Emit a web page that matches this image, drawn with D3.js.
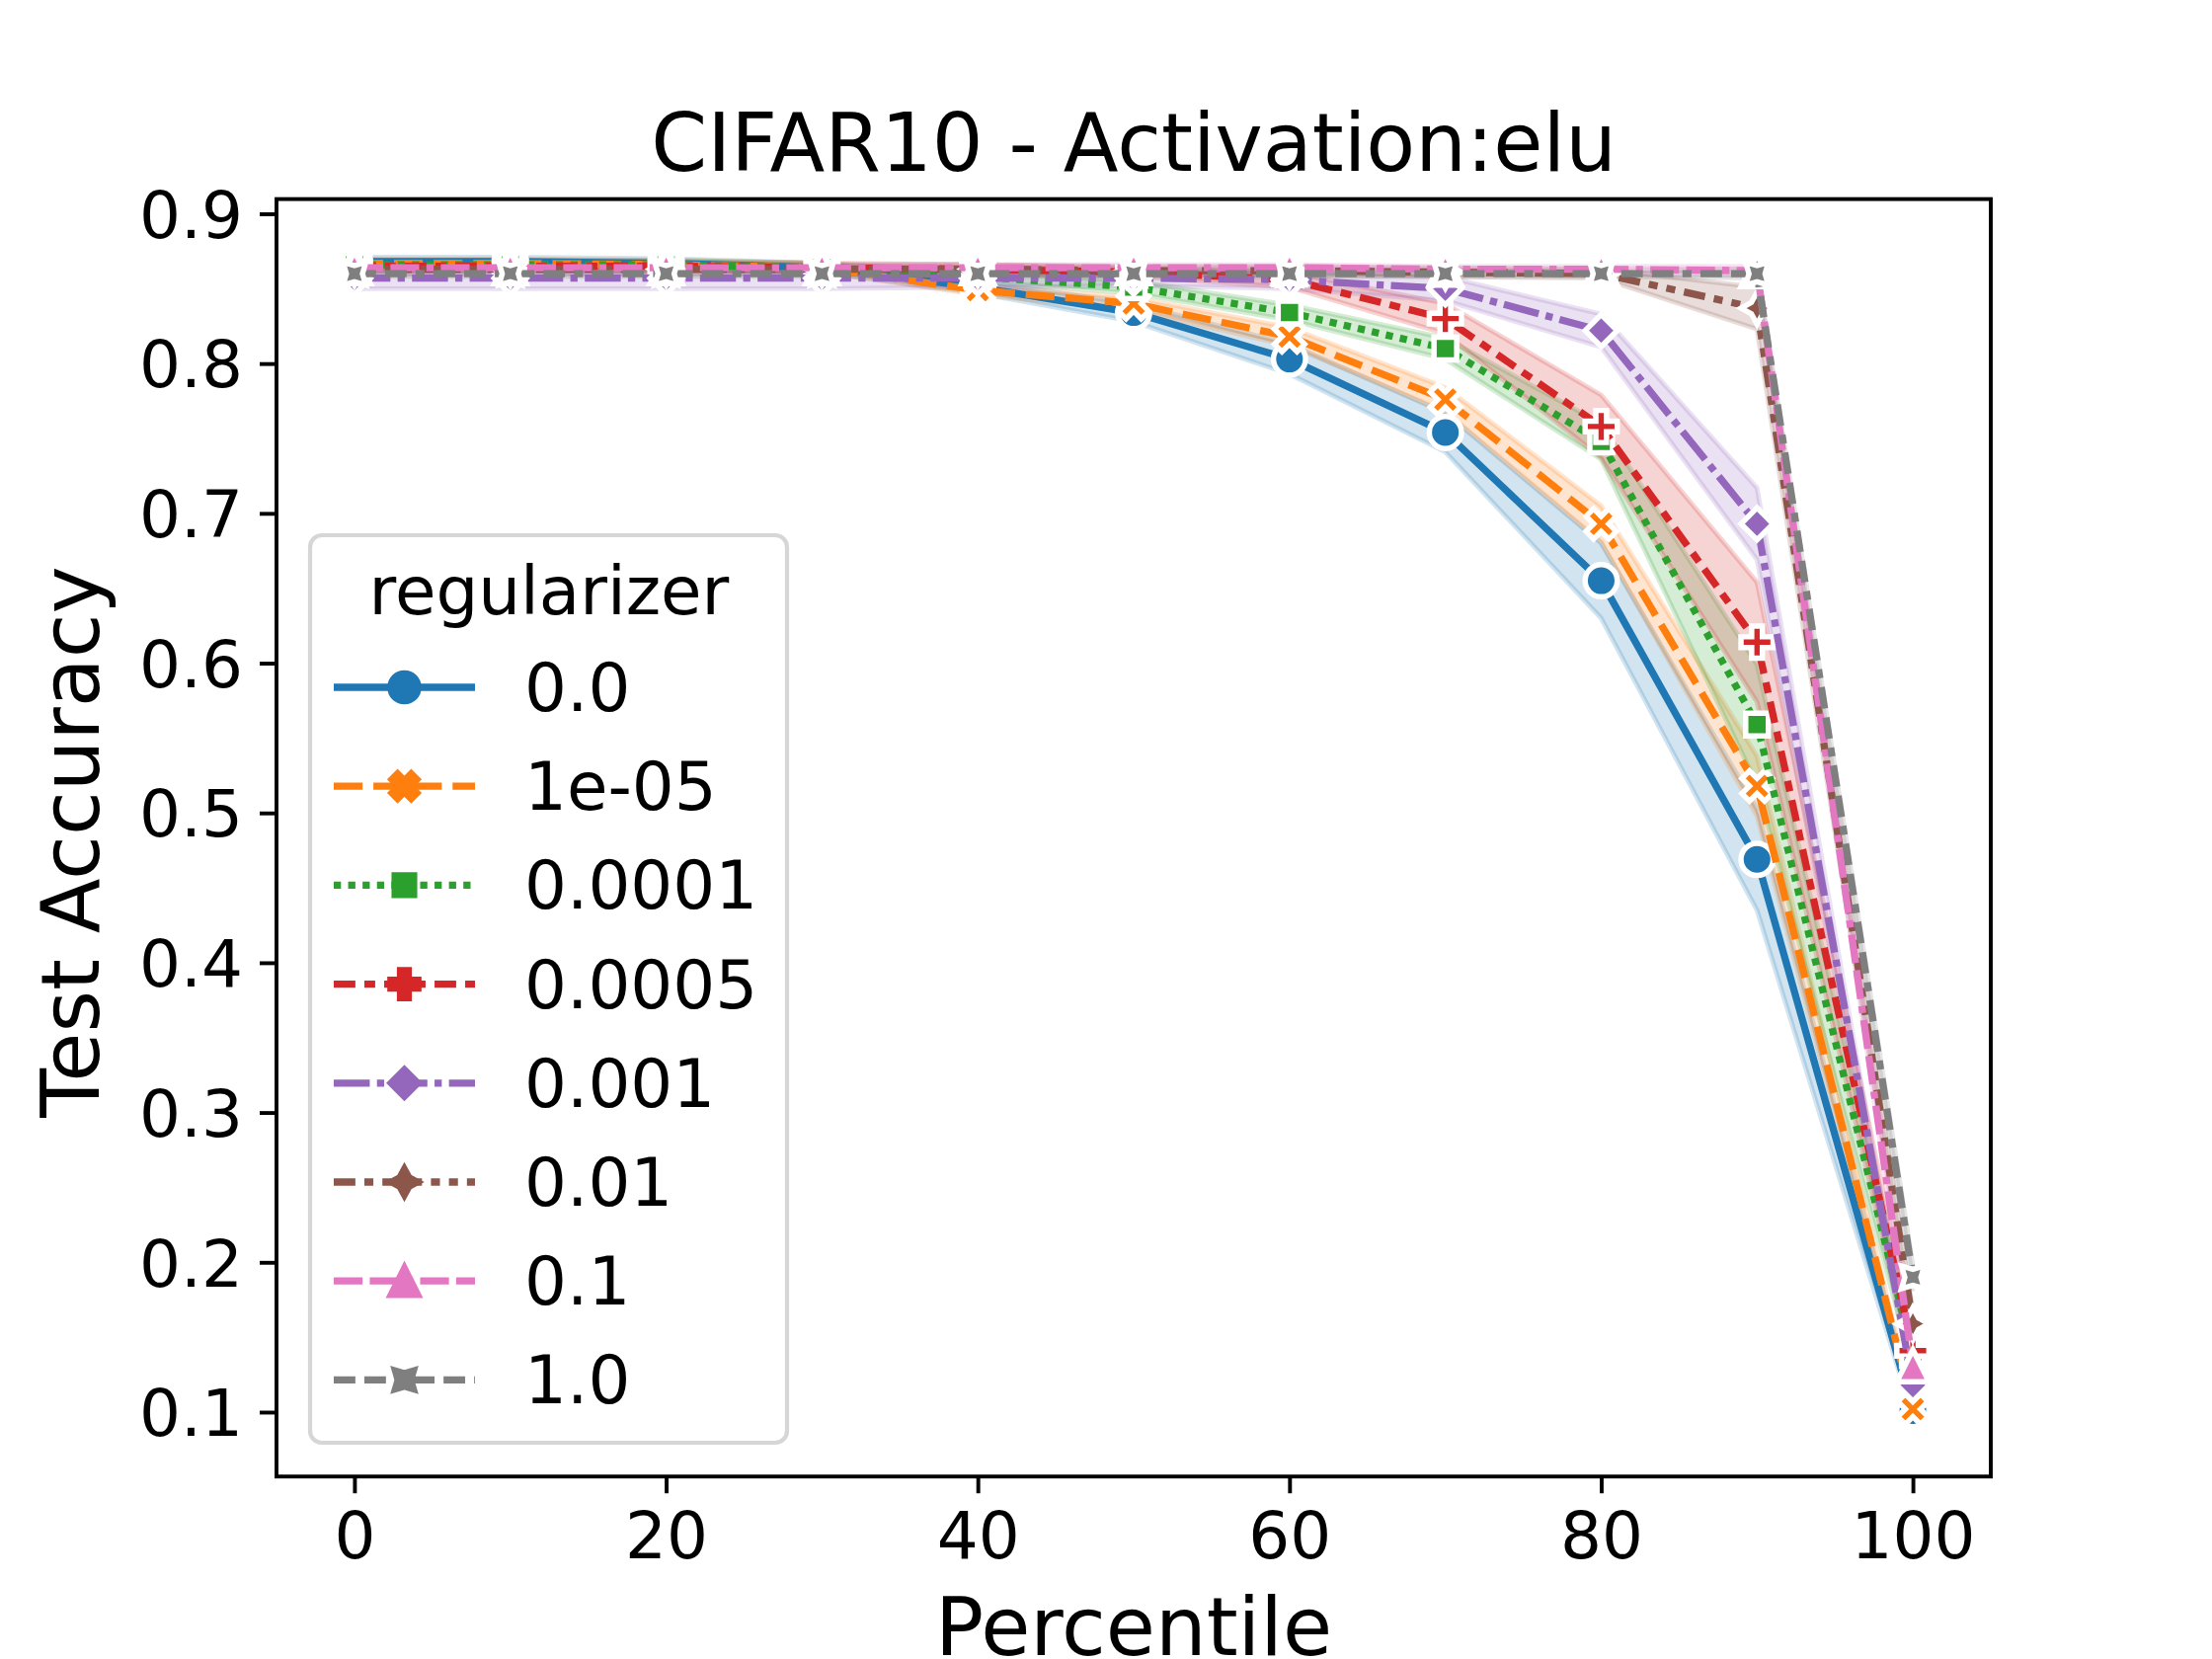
<!DOCTYPE html>
<html><head><meta charset="utf-8">
<script src="https://cdn.jsdelivr.net/npm/d3@7"></script>
<style>
body{margin:0;background:#fff}
svg{display:block}
text{font-family:"DejaVu Sans",sans-serif;fill:#000}
</style>
</head><body>
<svg id="chart" width="2240" height="1680"></svg>
<script>
// ---------------- data ----------------
const percentiles = [0, 10, 20, 30, 40, 50, 60, 70, 80, 90, 100];
const regularizers = ["0.0", "1e-05", "0.0001", "0.0005", "0.001", "0.01", "0.1", "1.0"];
const xTickValues = [0, 20, 40, 60, 80, 100];
const yTickValues = [0.1, 0.2, 0.3, 0.4, 0.5, 0.6, 0.7, 0.8, 0.9];
const titleText = "CIFAR10 - Activation:elu";
const xLabelText = "Percentile";
const yLabelText = "Test Accuracy";
const legendTitleText = "regularizer";

// mean test accuracy per regularizer
const acc_0_0    = [0.868, 0.868, 0.867, 0.864, 0.851, 0.834, 0.803, 0.754, 0.655, 0.469, 0.101];
const acc_1e_05  = [0.867, 0.867, 0.866, 0.864, 0.849, 0.840, 0.818, 0.776, 0.693, 0.518, 0.102];
const acc_0_0001 = [0.866, 0.866, 0.866, 0.864, 0.858, 0.851, 0.834, 0.810, 0.748, 0.559, 0.138];
const acc_0_0005 = [0.865, 0.865, 0.865, 0.864, 0.863, 0.861, 0.856, 0.830, 0.758, 0.614, 0.141];
const acc_0_001  = [0.857, 0.857, 0.857, 0.857, 0.857, 0.857, 0.856, 0.850, 0.822, 0.693, 0.118];
const acc_0_01   = [0.863, 0.863, 0.863, 0.863, 0.863, 0.862, 0.862, 0.861, 0.860, 0.837, 0.159];
const acc_0_1    = [0.864, 0.864, 0.864, 0.864, 0.864, 0.864, 0.864, 0.863, 0.863, 0.862, 0.131];
const acc_1_0    = [0.860, 0.860, 0.860, 0.860, 0.860, 0.860, 0.860, 0.860, 0.860, 0.860, 0.190];

// confidence-band half widths
const ci_0_0    = [0.003, 0.003, 0.003, 0.003, 0.004, 0.006, 0.010, 0.013, 0.025, 0.034, 0.004];
const ci_1e_05  = [0.003, 0.003, 0.003, 0.003, 0.003, 0.004, 0.006, 0.008, 0.012, 0.020, 0.003];
const ci_0_0001 = [0.003, 0.003, 0.003, 0.003, 0.003, 0.004, 0.005, 0.007, 0.012, 0.040, 0.010];
const ci_0_0005 = [0.003, 0.003, 0.003, 0.003, 0.003, 0.003, 0.005, 0.010, 0.021, 0.040, 0.010];
const ci_0_001  = [0.007, 0.007, 0.007, 0.007, 0.006, 0.005, 0.006, 0.008, 0.011, 0.024, 0.005];
const ci_0_01   = [0.003, 0.003, 0.003, 0.003, 0.003, 0.003, 0.003, 0.003, 0.003, 0.014, 0.008];
const ci_0_1    = [0.002, 0.002, 0.002, 0.002, 0.002, 0.002, 0.002, 0.002, 0.002, 0.003, 0.006];
const ci_1_0    = [0.002, 0.002, 0.002, 0.002, 0.002, 0.002, 0.002, 0.002, 0.002, 0.003, 0.008];

const accLists = [acc_0_0, acc_1e_05, acc_0_0001, acc_0_0005, acc_0_001, acc_0_01, acc_0_1, acc_1_0];
const ciLists  = [ci_0_0, ci_1e_05, ci_0_0001, ci_0_0005, ci_0_001, ci_0_01, ci_0_1, ci_1_0];

// ---------------- styles ----------------
const colors = ["#1f77b4", "#ff7f0e", "#2ca02c", "#d62728", "#9467bd", "#8c564b", "#e377c2", "#7f7f7f"];
const markerKinds = ["o", "X", "sq", "P", "D", "star", "^", "starx"];
const dashUnits = [null, [4, 1.5], [1, 1], [3, 1.25, 1.5, 1.25], [5, 1, 1, 1],
  [3, 1.25, 1.25, 1.25, 1.25, 1.25], [4, 1, 4, 1, 1, 1], [3, 1.25, 3, 1.25, 1.25, 1.25]];

const LW = 7.29;      // 1.5pt at 350 dpi
const MS = 32.5;      // plot marker size
const MS_LEG = 29.17; // legend marker size
const MEW = 5.47;     // 1.125pt
const FS_TICK = 66, FS_LABEL = 81.5, FS_LEG = 67.5;

const W = 2240, H = 1680;
const plot = {left: 280, right: 2016, top: 201.6, bottom: 1495.2};

const svg = d3.select("#chart");
svg.append("rect").attr("width", W).attr("height", H).attr("fill", "#fff");

const x = d3.scaleLinear().domain([-5, 105]).range([plot.left, plot.right]);
const y = d3.scaleLinear().domain([0.057, 0.9098]).range([plot.bottom, plot.top]);

const series = regularizers.map((r, i) => ({
  name: r, color: colors[i], marker: markerKinds[i], dash: dashUnits[i],
  pts: percentiles.map((p, j) => ({p, v: accLists[i][j], c: ciLists[i][j]}))
}));

// ---------------- marker paths ----------------
function polyPath(pts) {
  return "M" + pts.map(p => p[0].toFixed(2) + "," + p[1].toFixed(2)).join("L") + "Z";
}
function regPoly(n, r, rot) {
  const pts = [];
  for (let k = 0; k < n; k++) {
    const a = (90 + rot + 360 * k / n) * Math.PI / 180;
    pts.push([r * Math.cos(a), -r * Math.sin(a)]);
  }
  return pts;
}
function starPts(n, r, inner, rot) {
  const pts = [];
  for (let k = 0; k < 2 * n; k++) {
    const a = (90 + rot + 180 * k / n) * Math.PI / 180;
    const rr = k % 2 === 0 ? r : r * inner;
    pts.push([rr * Math.cos(a), -rr * Math.sin(a)]);
  }
  return pts;
}
function markerPath(kind, ms) {
  const r = ms / 2;
  if (kind === "o") return `M${r},0A${r},${r} 0 1,1 ${-r},0A${r},${r} 0 1,1 ${r},0Z`;
  if (kind === "X" || kind === "P") {
    const base = [[-1,-3],[1,-3],[1,-1],[3,-1],[3,1],[1,1],[1,3],[-1,3],[-1,1],[-3,1],[-3,-1],[-1,-1]]
      .map(p => [p[0] / 6 * ms, p[1] / 6 * ms]);
    const a = kind === "X" ? Math.PI / 4 : 0;
    return polyPath(base.map(([px, py]) => [px * Math.cos(a) - py * Math.sin(a), px * Math.sin(a) + py * Math.cos(a)]));
  }
  if (kind === "sq") return polyPath(regPoly(4, r, 45));
  if (kind === "D") return polyPath(regPoly(4, r, 0));
  if (kind === "star") return polyPath(starPts(4, r, 0.5, 0));
  if (kind === "starx") return polyPath(starPts(4, r, 0.5, 45));
  if (kind === "^") return polyPath([[0, -r], [-r, r], [r, r]]);
  return "";
}

// ---------------- bands ----------------
const area = d3.area().x(d => x(d.p)).y0(d => y(d.v - d.c)).y1(d => y(d.v + d.c));
const gBands = svg.append("g");
series.forEach(s => {
  gBands.append("path").attr("d", area(s.pts))
    .attr("fill", s.color).attr("fill-opacity", 0.2)
    .attr("stroke", s.color).attr("stroke-opacity", 0.2).attr("stroke-width", 4.86)
    .attr("stroke-linejoin", "round");
});

// ---------------- lines + markers ----------------
const line = d3.line().x(d => x(d.p)).y(d => y(d.v));
series.forEach(s => {
  const g = svg.append("g");
  const path = g.append("path").attr("d", line(s.pts))
    .attr("fill", "none").attr("stroke", s.color).attr("stroke-width", LW)
    .attr("stroke-linejoin", "round");
  if (s.dash) path.attr("stroke-dasharray", s.dash.map(u => (u * LW).toFixed(2)).join(",")).attr("stroke-linecap", "butt");
  else path.attr("stroke-linecap", "square");
  g.selectAll("path.mk").data(s.pts).join("path").attr("class", "mk")
    .attr("transform", d => `translate(${x(d.p)},${y(d.v)})`)
    .attr("d", markerPath(s.marker, MS))
    .attr("fill", s.color).attr("stroke", "#fff").attr("stroke-width", MEW)
    .attr("stroke-linejoin", s.marker === "o" ? "round" : "miter");
});

// ---------------- axes ----------------
const xAxis = d3.axisBottom(x).tickValues(xTickValues).tickFormat(d3.format("d"))
  .tickSize(17).tickSizeOuter(0).tickPadding(19);
const gx = svg.append("g").attr("transform", `translate(0,${plot.bottom})`).call(xAxis);
gx.select(".domain").remove();
gx.selectAll(".tick line").attr("stroke", "#000").attr("stroke-width", 3.9);
gx.selectAll(".tick text").attr("font-size", FS_TICK).attr("font-family", "DejaVu Sans").attr("fill", "#000");

const yAxis = d3.axisLeft(y).tickValues(yTickValues).tickFormat(d3.format(".1f"))
  .tickSize(17).tickSizeOuter(0).tickPadding(17);
const gy = svg.append("g").attr("transform", `translate(${plot.left},0)`).call(yAxis);
gy.select(".domain").remove();
gy.selectAll(".tick line").attr("stroke", "#000").attr("stroke-width", 3.9);
gy.selectAll(".tick text").attr("font-size", FS_TICK).attr("font-family", "DejaVu Sans").attr("fill", "#000").attr("dy", "0.36em");

// spines
svg.append("rect").attr("x", plot.left).attr("y", plot.top)
  .attr("width", plot.right - plot.left).attr("height", plot.bottom - plot.top)
  .attr("fill", "none").attr("stroke", "#000").attr("stroke-width", 3.9).attr("stroke-linejoin", "miter");

// title & labels
svg.append("text").attr("x", (plot.left + plot.right) / 2).attr("y", 173)
  .attr("text-anchor", "middle").attr("font-size", FS_LABEL).text(titleText);
svg.append("text").attr("x", (plot.left + plot.right) / 2).attr("y", 1676)
  .attr("text-anchor", "middle").attr("font-size", FS_LABEL).text(xLabelText);
svg.append("text").attr("transform", `translate(100,${(plot.top + plot.bottom) / 2 + 4}) rotate(-90)`)
  .attr("text-anchor", "middle").attr("font-size", FS_LABEL).text(yLabelText);

// ---------------- legend ----------------
const leg = svg.append("g");
leg.append("rect").attr("x", 314).attr("y", 542).attr("width", 483).attr("height", 919)
  .attr("rx", 12).attr("ry", 12)
  .attr("fill", "#fff").attr("fill-opacity", 0.8)
  .attr("stroke", "#d6d6d6").attr("stroke-width", 4.2);
leg.append("text").attr("x", 556).attr("y", 622).attr("text-anchor", "middle")
  .attr("font-size", FS_LEG).text(legendTitleText);
series.forEach((s, i) => {
  const ry = 696 + i * 100.2;
  const h = leg.append("g");
  const lp = h.append("path").attr("d", `M338,${ry}L481,${ry}`)
    .attr("stroke", s.color).attr("stroke-width", LW).attr("fill", "none");
  if (s.dash) lp.attr("stroke-dasharray", s.dash.map(u => (u * LW).toFixed(2)).join(",")).attr("stroke-linecap", "butt");
  else lp.attr("stroke-linecap", "butt");
  h.append("path").attr("transform", `translate(409.5,${ry})`).attr("d", markerPath(s.marker, MS_LEG))
    .attr("fill", s.color).attr("stroke", s.color).attr("stroke-width", MEW)
    .attr("stroke-linejoin", s.marker === "o" ? "round" : "miter");
  h.append("text").attr("x", 531).attr("y", ry + 24).attr("font-size", FS_LEG).text(s.name);
});
</script>
</body></html>
